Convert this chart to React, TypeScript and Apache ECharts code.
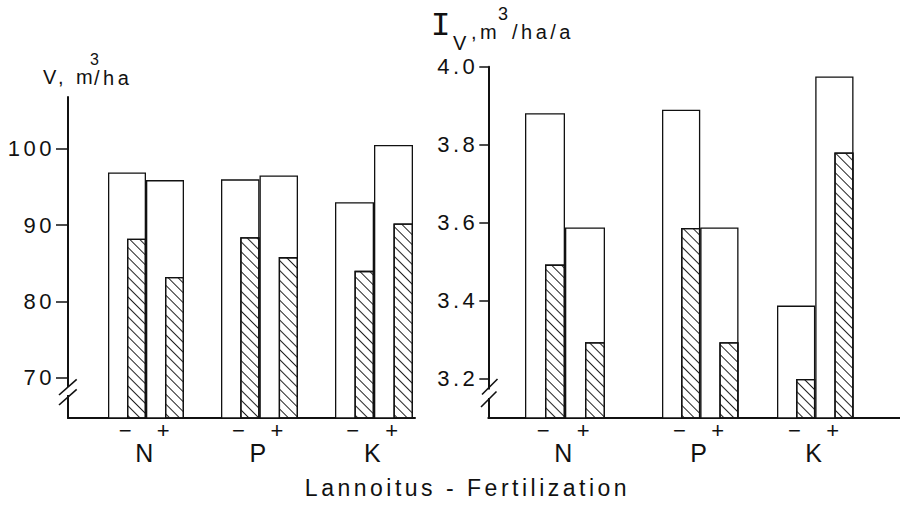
import React, { useEffect, useRef } from 'react';
import * as echarts from 'echarts';

// ---- data ----
const groups = ['N', 'P', 'K'];
const treatments = ['−', '+'];
// order: N−, N+, P−, P+, K−, K+
const volumeOpen = [96.9, 95.9, 96.0, 96.5, 93.0, 100.5];
const volumeHatched = [88.2, 83.2, 88.4, 85.8, 84.0, 90.2];
const incrementOpen = [3.881, 3.588, 3.89, 3.588, 3.388, 3.975];
const incrementHatched = [3.493, 3.294, 3.587, 3.294, 3.2, 3.78];
const volumeTicks = [70, 80, 90, 100];
const incrementTicks = [3.2, 3.4, 3.6, 3.8, 4.0];
const volumeRange = [64.7, 106.8];
const incrementRange = [3.1, 4.0];

// ---- layout / style ----
const INK = '#111111';
const FONT = '"Liberation Sans", Arial, Helvetica, sans-serif';
const panels = [
  { left: 68, top: 97, width: 347, height: 321, range: volumeRange, ticks: volumeTicks, tickLen: 12, labelMargin: 13, digits: 0 },
  { left: 488.3, top: 66.7, width: 411.7, height: 351.3, range: incrementRange, ticks: incrementTicks, tickLen: 9, labelMargin: 10, digits: 1 },
];
const groupBoxes = [
  [{ left: 108, width: 76 }, { left: 221, width: 77 }, { left: 335, width: 78 }],
  [{ left: 525, width: 80 }, { left: 662, width: 76.5 }, { left: 777, width: 76.5 }],
];
const panelData = [
  { open: volumeOpen, hatched: volumeHatched },
  { open: incrementOpen, hatched: incrementHatched },
];

function buildOption() {
  const grid: any[] = [];
  const xAxis: any[] = [];
  const yAxis: any[] = [];
  const series: any[] = [];

  panels.forEach((p) => {
    const gi = grid.length;
    grid.push({ left: p.left, top: p.top, width: p.width, height: p.height, containLabel: false, outerBoundsMode: 'none' });
    xAxis.push({
      gridIndex: gi, type: 'category', data: [''],
      axisLine: { show: true, lineStyle: { color: INK, width: 2 } },
      axisTick: { show: false }, axisLabel: { show: false }, splitLine: { show: false },
    });
    yAxis.push({
      gridIndex: gi, type: 'value', min: p.range[0], max: p.range[1],
      axisLine: { show: true, lineStyle: { color: INK, width: 2 } },
      axisTick: { show: true, inside: false, length: p.tickLen, customValues: p.ticks, lineStyle: { color: INK, width: 1.5 } },
      axisLabel: {
        show: true, customValues: p.ticks, fontSize: 22, color: INK, fontFamily: FONT, margin: p.labelMargin,
        formatter: (v: number) => v.toFixed(p.digits),
      },
      splitLine: { show: false },
    });
  });

  panels.forEach((p, pi) => {
    groups.forEach((g, k) => {
      const box = groupBoxes[pi][k];
      const gi = grid.length;
      grid.push({ left: box.left, top: p.top, width: box.width, height: p.height, containLabel: false, outerBoundsMode: 'none' });
      xAxis.push({
        gridIndex: gi, type: 'category', data: treatments,
        axisLine: { show: false }, axisTick: { show: false },
        axisLabel: { fontSize: 22, color: INK, fontFamily: FONT, margin: 1 },
        name: g, nameLocation: 'middle', nameGap: 22, nameMoveOverlap: false,
        nameTextStyle: { fontSize: 25, color: INK, fontFamily: FONT },
      });
      yAxis.push({ gridIndex: gi, type: 'value', min: p.range[0], max: p.range[1], show: false });
      const d = panelData[pi];
      series.push({
        type: 'bar', xAxisIndex: gi, yAxisIndex: gi, silent: true,
        data: d.open.slice(k * 2, k * 2 + 2),
        barWidth: '100%', barGap: '-50%',
        itemStyle: { color: '#ffffff', borderColor: INK, borderWidth: 1.3 },
      });
      series.push({
        type: 'bar', xAxisIndex: gi, yAxisIndex: gi, silent: true,
        data: d.hatched.slice(k * 2, k * 2 + 2),
        barWidth: '50%', barGap: '-50%',
        itemStyle: {
          color: '#ffffff', borderColor: INK, borderWidth: 1.3,
          decal: {
            symbol: 'rect', symbolSize: 1, dashArrayX: [1, 0], dashArrayY: [1, 5.2],
            rotation: Math.PI / 4, color: '#222222', backgroundColor: null,
          },
        },
      });
    });
  });

  const txt = (text: string, x: number, y: number, fontSize: number, align = 'left', fontFamily = FONT) => ({
    type: 'text', z: 100, x, y,
    style: { text, fontSize, fontFamily, fill: INK, align, verticalAlign: 'middle' },
  });
  const line = (x1: number, y1: number, x2: number, y2: number) => ({
    type: 'line', z: 101, shape: { x1, y1, x2, y2 }, style: { stroke: INK, lineWidth: 1.6 },
  });
  const rect = (x: number, y: number, w: number, h: number) => ({
    type: 'rect', z: 100, shape: { x, y, width: w, height: h }, style: { fill: '#ffffff' },
  });

  const graphic = [
    // axis breaks
    rect(65, 387, 7, 8),
    line(59, 395, 76.7, 379.3),
    line(59, 405, 76.7, 389.4),
    rect(485, 389.5, 7, 8.5),
    line(482, 394.5, 497.5, 379),
    line(481, 407, 496.5, 391.5),
    // left title
    txt('V, m', 43, 76.7, 20),
    txt('3', 90, 59.5, 16),
    txt('/ha', 94, 77.5, 20),
    // right title
    txt('I', 442.5, 26.7, 33, 'center', '"Liberation Mono", "DejaVu Sans Mono", monospace'),
    txt('V', 453, 43.3, 20),
    txt(',m', 471, 31.5, 20),
    txt('3', 498, 14, 18),
    txt('/ha/a', 512, 31.5, 20),
    // x title
    txt('Lannoitus - Fertilization', 467.5, 488.3, 23, 'center'),
  ];

  return {
    animation: false,
    backgroundColor: '#ffffff',
    textStyle: { fontFamily: FONT },
    grid, xAxis, yAxis, series, graphic,
  };
}

export default function App() {
  const ref = useRef<HTMLDivElement>(null);
  useEffect(() => {
    if (!ref.current) return;
    const chart = echarts.init(ref.current, null, { renderer: 'svg' });
    chart.setOption(buildOption());
    return () => chart.dispose();
  }, []);
  return (
    <>
      <style>{'#chart-root text { letter-spacing: 3.5px; }'}</style>
      <div
        id="chart-root"
        ref={ref}
        style={{ position: 'fixed', left: 0, top: 0, width: 900, height: 505, background: '#fff' }}
      />
    </>
  );
}
